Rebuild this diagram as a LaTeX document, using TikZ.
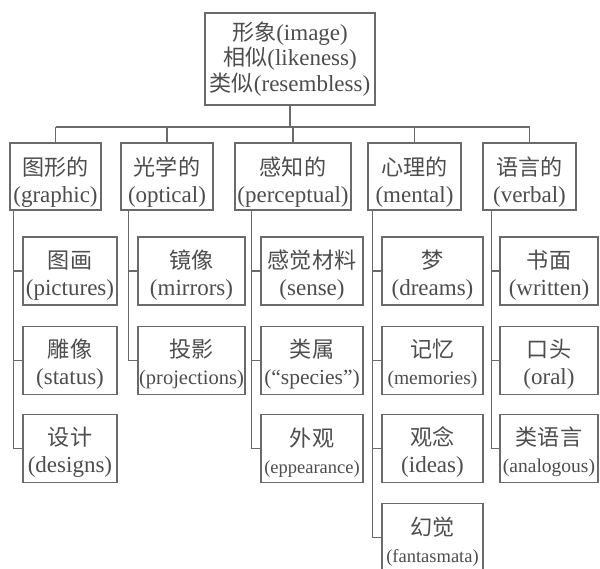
\documentclass[tikz,border=0pt]{standalone}
\usepackage{fontspec}
\setmainfont{Liberation Serif}
\newfontfamily\cjk[Scale=0.96]{Noto Sans CJK SC}
\usetikzlibrary{calc}
\definecolor{linec}{HTML}{6A6A6A}
\definecolor{textc}{HTML}{4D4D4D}
\newcommand\fsz[1]{\fontsize{#1}{27}\selectfont}
\newcommand\lowc{\rule{0pt}{30pt}}
\newcommand\lowk{\rule{0pt}{26pt}}
\begin{document}
\begin{tikzpicture}[x=1pt,y=-1pt,
  box/.style={draw=linec, line width=1.4pt, text=textc, align=center, inner sep=0pt,
              minimum height=68pt, font=\fsz{23}},
  conn/.style={draw=linec, line width=1.4pt}]
\useasboundingbox[fill=white] (0,0) rectangle (600,569);
\clip (0,0) rectangle (600,569);
% root
\node[box, minimum width=170pt, minimum height=92pt, font=\fontsize{23}{25.5}\selectfont] (top) at (290,59)
  {{\cjk 形象}(image)\\{\cjk 相似}(likeness)\\{\cjk 类似}(resembless)};
% categories
\node[box, minimum width=91pt, minimum height=67pt] (g) at (55.5,176.5) {\lowc{\cjk 图形的}\\(graphic)};
\node[box, minimum width=92pt, minimum height=67pt] (o) at (167,176.5) {\lowc{\cjk 光学的}\\(optical)};
\node[box, minimum width=116pt, minimum height=67pt] (p) at (293,176.5) {\lowc{\cjk 感知的}\\(perceptual)};
\node[box, minimum width=93pt, minimum height=67pt] (m) at (414.5,176.5) {\lowc{\cjk 心理的}\\(mental)};
\node[box, minimum width=93pt, minimum height=67pt] (v) at (529.5,176.5) {\lowc{\cjk 语言的}\\(verbal)};
% graphic children
\node[box, minimum width=94pt] (g1) at (70,271) {\lowk{\cjk 图画}\\(pictures)};
\node[box, minimum width=94pt] (g2) at (70,360.5) {\lowk{\cjk 雕像}\\(status)};
\node[box, minimum width=94pt] (g3) at (70,448.5) {\lowk{\cjk 设计}\\(designs)};
% optical children
\node[box, minimum width=107pt] (o1) at (191.5,271) {\lowk{\cjk 镜像}\\(mirrors)};
\node[box, minimum width=107pt] (o2) at (191.5,360.5) {\lowk{\cjk 投影}\\{\fsz{20.5}(projections)}};
% perceptual children
\node[box, minimum width=102pt] (p1) at (312,271) {\lowk{\cjk 感觉材料}\\(sense)};
\node[box, minimum width=102pt] (p2) at (312,360.5) {\lowk{\cjk 类属}\\{\fsz{21.5}(“species”)}};
\node[box, minimum width=102pt] (p3) at (312,448.5) {\lowk{\cjk 外观}\\{\fsz{18.5}(eppearance)}};
% mental children
\node[box, minimum width=101pt] (m1) at (432.5,271) {\lowk{\cjk 梦}\\(dreams)};
\node[box, minimum width=101pt] (m2) at (432.5,360.5) {\lowk{\cjk 记忆}\\{\fsz{19.5}(memories)}};
\node[box, minimum width=101pt] (m3) at (432.5,448.5) {\lowk{\cjk 观念}\\(ideas)};
\node[box, minimum width=101pt] (m4) at (432.5,537.5) {\lowk{\cjk 幻觉}\\{\fsz{18.5}(fantasmata)}};
% verbal children
\node[box, minimum width=98pt] (v1) at (549,271) {\lowk{\cjk 书面}\\(written)};
\node[box, minimum width=98pt] (v2) at (549,360.5) {\lowk{\cjk 口头}\\(oral)};
\node[box, minimum width=98pt] (v3) at (549,448.5) {\lowk{\cjk 类语言}\\{\fsz{19.5}(analogous)}};
% bus
\coordinate (bus) at (0,127);
\draw[conn] (top.south) -- (top.south |- bus);
\draw[conn] (g.north |- bus) -- (v.north |- bus);
\foreach \c in {g,o,p,m,v} \draw[conn] (\c.north |- bus) -- (\c.north);
% trunks
\coordinate (gt) at ($(g.south west)+(4,0)$);
\coordinate (ot) at ($(o.south west)+(8,0)$);
\coordinate (pt) at ($(p.south west)+(17,0)$);
\coordinate (mt) at ($(m.south west)+(5,0)$);
\coordinate (vt) at ($(v.south west)+(9,0)$);
\foreach \c in {g1,g2,g3} \draw[conn] (gt) |- (\c.west);
\foreach \c in {o1,o2} \draw[conn] (ot) |- (\c.west);
\foreach \c in {p1,p2,p3} \draw[conn] (pt) |- (\c.west);
\foreach \c in {m1,m2,m3,m4} \draw[conn] (mt) |- (\c.west);
\foreach \c in {v1,v2,v3} \draw[conn] (vt) |- (\c.west);
\end{tikzpicture}
\end{document}
